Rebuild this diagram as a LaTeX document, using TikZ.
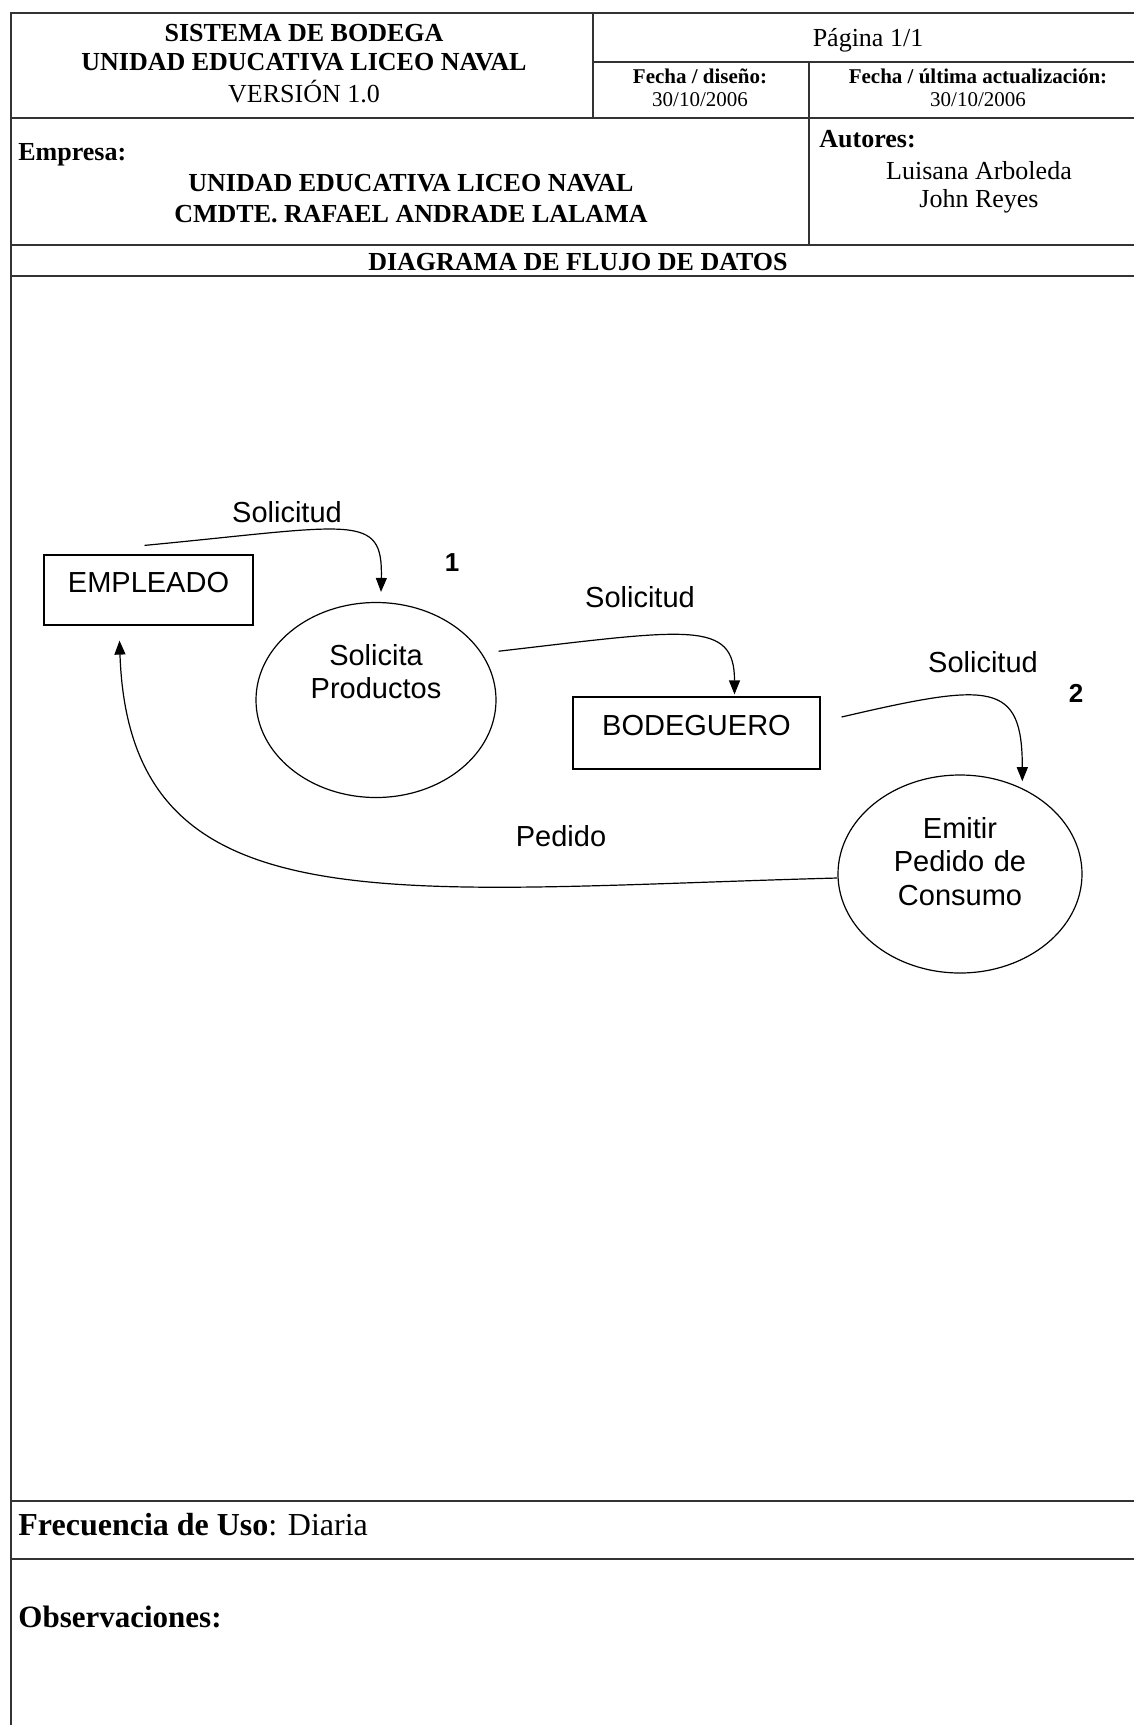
\documentclass[tikz,border=0pt]{standalone}
\usepackage{fontspec}
\setmainfont{Liberation Serif}
\newfontfamily\arialfont{Liberation Sans}
\usetikzlibrary{arrows.meta,shapes.geometric}
\tikzset{
  rule/.style={line width=1.2pt,black!80},
  ttl/.style={font=\bfseries\fontsize{13}{15}\selectfont,inner sep=0pt},
  txt/.style={font=\fontsize{13}{15}\selectfont,inner sep=0pt},
  sml/.style={font=\bfseries\fontsize{10.5}{12}\selectfont,inner sep=0pt},
  dat/.style={font=\fontsize{10.5}{12}\selectfont,inner sep=0pt},
  ent/.style={draw,line width=0.6pt,minimum width=104.5pt,minimum height=35pt,
    text height=10pt,text depth=8pt,inner sep=0pt,font=\arialfont\fontsize{14.5}{17}\selectfont},
  proc/.style={draw,ellipse,line width=0.6pt,align=center,text width=70pt,inner sep=0pt,
    text height=10pt,font=\arialfont\fontsize{14.5}{16.75}\selectfont},
  lbl/.style={font=\arialfont\fontsize{14.5}{17}\selectfont,inner sep=0pt},
  num/.style={font=\arialfont\bfseries\fontsize{13}{15}\selectfont,inner sep=0pt},
  flow/.style={line width=0.6pt,-{Triangle[length=7pt,width=5.5pt]}}
}
\begin{document}
\begin{tikzpicture}[x=0.5pt,y=-0.5pt]
      \useasboundingbox (0,0) rectangle (1134,1725);
      \draw[rule] (1134,13) -- (11,13) -- (11,1725);
      \draw[rule] (11,118) -- (1134,118);
      \draw[rule] (593,13) -- (593,118);
      \draw[rule] (593,62) -- (1134,62);
      \draw[rule] (809,62) -- (809,245);
      \draw[rule] (11,245) -- (1134,245);
      \draw[rule] (11,276) -- (1134,276);
      \draw[rule] (11,1501) -- (1134,1501);
      \draw[rule] (11,1559) -- (1134,1559);
      \draw
        (304,33) node[ttl] (sis){SISTEMA DE BODEGA}
        (304,62) node[ttl] (uni){UNIDAD EDUCATIVA LICEO NAVAL}
        (304,92) node[txt] (ver){VERSIÓN 1.0}
        (868,40) node[txt] (pag){Página 1/1}
        (700,76) node[sml] (fdis){Fecha / diseño:}
        (700,100) node[dat] (ddis){30/10/2006}
        (978,76) node[sml] (fact){Fecha / última actualización:}
        (978,100) node[dat] (dact){30/10/2006}
        (18,155) node[ttl,anchor=west] (emp0){Empresa:}
        (411,183) node[ttl] (emp1){UNIDAD EDUCATIVA LICEO NAVAL}
        (411,214) node[ttl] (emp2){CMDTE. RAFAEL ANDRADE LALAMA}
        (819,139) node[ttl,anchor=west] (aut0){Autores:}
        (979,171) node[txt] (aut1){Luisana Arboleda}
        (979,201) node[txt] (aut2){John Reyes}
        (578,262) node[ttl] (dfd){DIAGRAMA DE FLUJO DE DATOS}
        (18,1525) node[anchor=west,inner sep=0pt,font=\fontsize{16}{18}\selectfont] (frec){\textbf{Frecuencia de Uso}: Diaria}
        (18,1617) node[anchor=west,inner sep=0pt,font=\bfseries\fontsize{15.5}{18}\selectfont] (obs){Observaciones:};
      \draw
        (148.5,590) node[ent] (emp){EMPLEADO}
        (376,700) node[proc,minimum width=120pt,minimum height=97.5pt,text depth=44.6pt] (p1){Solicita\\Productos}
        (696.5,733) node[ent,minimum width=123.5pt,minimum height=36pt] (bod){BODEGUERO}
        (960,874) node[proc,minimum width=122pt,minimum height=99pt,text depth=45.6pt] (p2){Emitir\\Pedido de\\Consumo}
        (287,512) node[lbl] (s1){Solicitud}
        (640,597) node[lbl] (s2){Solicitud}
        (983,662) node[lbl] (s3){Solicitud}
        (561,836) node[lbl] (ped){Pedido}
        (452,563) node[num] (n1){1}
        (1076,693) node[num] (n2){2};
      \begin{scope}[flow]
        \draw ([shift={(-4,-9)}]emp.north) .. controls +(210,-20) and +(2,-80) .. ([shift={(5,-10)}]p1.north);
        \draw ([xshift=9pt]p1.25) .. controls +(190,-22) and +(0,-75) .. ([shift={(38,-2)}]bod.north);
        \draw ([shift={(21,-16)}]bod.east) .. controls +(150,-35) and +(0,-100) .. ([shift={(0,-7)}]p2.54);
        \draw ([yshift=-2pt]p2.west) .. controls +(-450,12) and +(10,290) .. ([shift={(-29,15)}]emp.south);
      \end{scope}
    \end{tikzpicture}
\end{document}
